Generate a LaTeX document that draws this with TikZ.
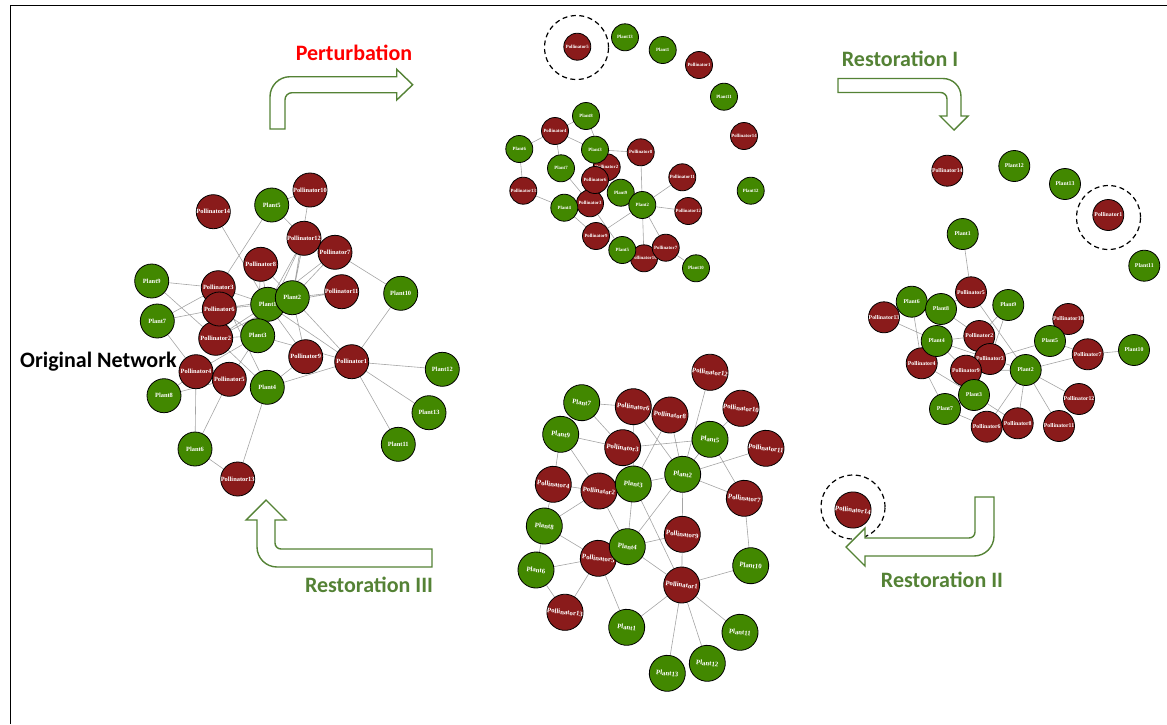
\documentclass[tikz,border=0pt]{standalone}
\usepackage{fontspec}
\setmainfont{Liberation Serif}
\newfontfamily\calib{Carlito}
\usepackage{xcolor}
\usetikzlibrary{backgrounds}
\definecolor{pollred}{RGB}{138,27,27}
\definecolor{plantgreen}{RGB}{66,136,0}
\definecolor{arrowgreen}{RGB}{84,130,53}
\definecolor{edgegray}{RGB}{165,165,165}
\tikzset{%
    % Specifications for style of nodes:
    base/.style = {
        circle, draw=black, line width=0.8pt,
        inner sep=0pt, text=white, align=center
    },
    poll/.style = {base, fill=pollred},
    plant/.style = {base, fill=plantgreen},
    orig/.style = {minimum size=34pt, font=\fontsize{6.4}{7}\selectfont\bfseries},
    pert/.style = {minimum size=27pt, font=\fontsize{4.8}{5}\selectfont\bfseries},
    restI/.style = {minimum size=31pt, font=\fontsize{5.8}{6}\selectfont\bfseries},
    restIII/.style = {minimum size=36pt, rotate=-7, font=\fontsize{6.8}{7}\selectfont\bfseries},
    ring/.style = {circle, draw=black, line width=1.2pt, dash pattern=on 5pt off 3.5pt, minimum size=64pt},
    edge/.style = {draw=edgegray, line width=0.6pt},
    blockarrow/.style = {draw=arrowgreen, line width=1.4pt, fill=white},
    title/.style = {inner sep=0pt, font=\calib\fontsize{22}{26}\selectfont\bfseries}
}

\begin{document}
\begin{tikzpicture}[x=1pt, y=-1pt]
\useasboundingbox (0,0) rectangle (1167,724);
\draw[line width=1pt] (10,724) -- (10,5) -- (1167,5);

% original network
\node[poll, orig] (oP10) at (310,190) {Pollinator10};
\node[plant, orig] (oL5) at (271.7,205) {Plant5};
\node[poll, orig] (oP14) at (213.3,211.7) {Pollinator14};
\node[poll, orig] (oP12) at (304,238.3) {Pollinator12};
\node[poll, orig] (oP7) at (335,252.3) {Pollinator7};
\node[poll, orig] (oP8) at (260.7,264.3) {Pollinator8};
\node[plant, orig] (oL9) at (151.7,281) {Plant9};
\node[poll, orig] (oP3) at (218.3,287.7) {Pollinator3};
\node[poll, orig] (oP11) at (341.7,291.7) {Pollinator11};
\node[plant, orig] (oL1) at (267.7,304.3) {Plant1};
\node[plant, orig] (oL2) at (292.3,297.7) {Plant2};
\node[plant, orig] (oL10) at (400.7,293.3) {Plant10};
\node[poll, orig] (oP2) at (215.7,338.3) {Pollinator2};
\node[poll, orig] (oP6) at (219.3,309) {Pollinator6};
\node[plant, orig] (oL7) at (157.3,321) {Plant7};
\node[plant, orig] (oL3) at (257.7,335.7) {Plant3};
\node[poll, orig] (oP9) at (305.7,356.7) {Pollinator9};
\node[poll, orig] (oP1) at (351.7,361.7) {Pollinator1};
\node[plant, orig] (oL12) at (442.3,369.3) {Plant12};
\node[poll, orig] (oP4) at (196,371.7) {Pollinator4};
\node[poll, orig] (oP5) at (229.3,379.3) {Pollinator5};
\node[plant, orig] (oL4) at (267.3,387.3) {Plant4};
\node[plant, orig] (oL8) at (164,395.7) {Plant8};
\node[plant, orig] (oL13) at (429,412.7) {Plant13};
\node[plant, orig] (oL11) at (398.3,444.3) {Plant11};
\node[plant, orig] (oL6) at (195,449) {Plant6};
\node[poll, orig] (oP13) at (237.7,479) {Pollinator13};

% after perturbation
\node[poll, pert] (pP5) at (577.3,46.7) {Pollinator5};
\node[ring] (pRing) at (576.5,47.5) {};
\node[plant, pert] (pL13) at (625,37.3) {Plant13};
\node[plant, pert] (pL1) at (662.7,50) {Plant1};
\node[poll, pert] (pP1) at (699,65) {Pollinator1};
\node[plant, pert] (pL11) at (724,96.7) {Plant11};
\node[poll, pert] (pP14) at (744,136) {Pollinator14};
\node[plant, pert] (pL12) at (750.7,190.7) {Plant12};
\node[plant, pert] (pL8) at (586,116) {Plant8};
\node[poll, pert] (pP4) at (555,131) {Pollinator4};
\node[plant, pert] (pL6) at (519.3,149) {Plant6};
\node[poll, pert] (pP2) at (606.7,167.3) {Pollinator2};
\node[plant, pert] (pL3) at (595,149.7) {Plant3};
\node[poll, pert] (pP8) at (640.7,152.3) {Pollinator8};
\node[plant, pert] (pL7) at (561,168.3) {Plant7};
\node[poll, pert] (pP11) at (682.3,177.3) {Pollinator11};
\node[poll, pert] (pP13) at (523.3,190.7) {Pollinator13};
\node[poll, pert] (pP3) at (590,203.3) {Pollinator3};
\node[poll, pert] (pP6) at (595,180) {Pollinator6};
\node[plant, pert] (pL9) at (620.7,192.7) {Plant9};
\node[plant, pert] (pL2) at (642.3,205) {Plant2};
\node[plant, pert] (pL4) at (564.3,207.7) {Plant4};
\node[poll, pert] (pP12) at (688.3,211) {Pollinator12};
\node[poll, pert] (pP9) at (596,236) {Pollinator9};
\node[poll, pert] (pP10) at (644,258.3) {Pollinator10};
\node[poll, pert] (pP7) at (665.7,247.7) {Pollinator7};
\node[plant, pert] (pL5) at (622.3,250) {Plant5};
\node[plant, pert] (pL10) at (696,268.3) {Plant10};

% restoration I
\node[poll, restI] (aP14) at (947.3,170.7) {Pollinator14};
\node[plant, restI] (aL12) at (1014.3,166) {Plant12};
\node[plant, restI] (aL13) at (1065,184) {Plant13};
\node[poll, restI] (aP1) at (1108.3,215) {Pollinator1};
\node[ring] (aRing) at (1108.5,217.5) {};
\node[plant, restI] (aL11) at (1144.3,265.7) {Plant11};
\node[plant, restI] (aL1) at (962.7,234) {Plant1};
\node[poll, restI] (aP5) at (971,292.3) {Pollinator5};
\node[poll, restI] (aP13) at (884,317.3) {Pollinator13};
\node[plant, restI] (aL6) at (911.7,301.7) {Plant6};
\node[plant, restI] (aL9) at (1008.3,305) {Plant9};
\node[plant, restI] (aL8) at (941,309) {Plant8};
\node[poll, restI] (aP10) at (1068.3,319) {Pollinator10};
\node[poll, restI] (aP2) at (979.3,336) {Pollinator2};
\node[poll, restI] (aP4) at (921.7,363.3) {Pollinator4};
\node[plant, restI] (aL4) at (936.7,341) {Plant4};
\node[plant, restI] (aL5) at (1050,341) {Plant5};
\node[poll, restI] (aP3) at (990,359) {Pollinator3};
\node[poll, restI] (aP7) at (1087.7,354.3) {Pollinator7};
\node[plant, restI] (aL10) at (1134,350) {Plant10};
\node[poll, restI] (aP9) at (966,370.7) {Pollinator9};
\node[plant, restI] (aL2) at (1025.7,370) {Plant2};
\node[plant, restI] (aL3) at (974,395) {Plant3};
\node[poll, restI] (aP12) at (1079,399) {Pollinator12};
\node[plant, restI] (aL7) at (945,409) {Plant7};
\node[poll, restI] (aP6) at (986.7,426.7) {Pollinator6};
\node[poll, restI] (aP8) at (1017.7,423.3) {Pollinator8};
\node[poll, restI] (aP11) at (1059,426) {Pollinator11};

% restoration II / III
\node[poll, restIII] (bP14) at (853,510) {Pollinator14};
\node[ring] (bRing) at (853,507) {};
\node[poll, restIII] (bP12) at (710,372.3) {Pollinator12};
\node[plant, restIII] (bL7) at (581.7,402.7) {Plant7};
\node[poll, restIII] (bP6) at (633.3,406.7) {Pollinator6};
\node[poll, restIII] (bP8) at (670,415) {Pollinator8};
\node[poll, restIII] (bP10) at (741,408.3) {Pollinator10};
\node[plant, restIII] (bL9) at (560.7,434.3) {Plant9};
\node[plant, restIII] (bL5) at (710,439.3) {Plant5};
\node[poll, restIII] (bP11) at (766,448.3) {Pollinator11};
\node[poll, restIII] (bP3) at (622.7,447.7) {Pollinator3};
\node[plant, restIII] (bL2) at (682.7,474.3) {Plant2};
\node[poll, restIII] (bP4) at (553.3,484.3) {Pollinator4};
\node[poll, restIII] (bP2) at (599,491) {Pollinator2};
\node[plant, restIII] (bL3) at (633.3,484) {Plant3};
\node[poll, restIII] (bP7) at (744.3,498.3) {Pollinator7};
\node[plant, restIII] (bL8) at (544.3,526) {Plant8};
\node[poll, restIII] (bP9) at (682.3,534.3) {Pollinator9};
\node[poll, restIII] (bP5) at (598.3,558.3) {Pollinator5};
\node[plant, restIII] (bL4) at (627.3,546.7) {Plant4};
\node[plant, restIII] (bL6) at (536,570) {Plant6};
\node[plant, restIII] (bL10) at (750.7,565.7) {Plant10};
\node[poll, restIII] (bP1) at (681.7,585) {Pollinator1};
\node[poll, restIII] (bP13) at (565,612.3) {Pollinator13};
\node[plant, restIII] (bL1) at (626.7,627.3) {Plant1};
\node[plant, restIII] (bL11) at (740,632.3) {Plant11};
\node[plant, restIII] (bL12) at (707.3,663.3) {Plant12};
\node[plant, restIII] (bL13) at (667.3,673.3) {Plant13};

\begin{scope}[on background layer]
\draw[edge] (oP10) -- (oL5) (oP10) -- (oL2) (oL5) -- (oP12) (oL5) -- (oP3)
    (oP14) -- (oL1) (oP12) -- (oL2) (oP12) -- (oL1) (oP12) -- (oL3)
    (oP7) -- (oL2) (oP7) -- (oL1) (oP7) -- (oL10) (oP8) -- (oL1) (oP8) -- (oL2)
    (oP8) -- (oL3) (oL9) -- (oP3) (oL9) -- (oP2) (oL7) -- (oP3) (oL7) -- (oP6)
    (oL7) -- (oP4) (oP11) -- (oL2) (oP11) -- (oL1) (oL1) -- (oP9) (oL1) -- (oP1)
    (oL1) -- (oP3) (oL1) -- (oP6) (oL1) -- (oP2) (oL2) -- (oP9) (oL2) -- (oP1)
    (oL2) -- (oP6) (oL2) -- (oP2) (oL3) -- (oP1) (oL3) -- (oP4) (oL3) -- (oP5)
    (oL3) -- (oP2) (oL3) -- (oP6) (oL4) -- (oP9) (oL4) -- (oP1) (oL4) -- (oP13)
    (oL4) -- (oP3) (oL4) -- (oP2) (oP1) -- (oL10) (oP1) -- (oL12) (oP1) -- (oL13)
    (oP1) -- (oL11) (oP4) -- (oL8) (oP4) -- (oL6) (oP5) -- (oL8) (oP5) -- (oL6)
    (oL6) -- (oP13);
\draw[edge] (pL8) -- (pP4) (pL8) -- (pP2) (pP4) -- (pL6) (pP4) -- (pL3)
    (pP4) -- (pL7) (pL6) -- (pP13) (pL3) -- (pP8) (pL3) -- (pP6) (pP13) -- (pL4)
    (pL7) -- (pP3) (pL4) -- (pP3) (pL4) -- (pP9) (pP8) -- (pL2) (pL2) -- (pP11)
    (pL2) -- (pP12) (pL2) -- (pP7) (pL2) -- (pP10) (pL2) -- (pP9) (pL9) -- (pP6)
    (pP3) -- (pL5) (pP7) -- (pL10) (pL9) -- (pP2);
\draw[edge] (aL1) -- (aP5) (aP5) -- (aL2) (aP5) -- (aL8) (aP13) -- (aL4)
    (aP13) -- (aL6) (aL6) -- (aP4) (aL8) -- (aP2) (aL9) -- (aP3) (aL9) -- (aP2)
    (aL4) -- (aP2) (aL4) -- (aP3) (aL4) -- (aP9) (aP4) -- (aL3) (aP4) -- (aL7)
    (aP9) -- (aL2) (aP3) -- (aL2) (aL5) -- (aP3) (aL5) -- (aP10) (aL5) -- (aP7)
    (aP7) -- (aL10) (aP7) -- (aL2) (aL2) -- (aP12) (aL2) -- (aP11) (aL2) -- (aP8)
    (aL2) -- (aP6) (aL3) -- (aP8) (aL7) -- (aP6) (aL3) -- (aP9);
\draw[edge] (bL7) -- (bP6) (bL7) -- (bP3) (bL9) -- (bP3) (bL9) -- (bP4)
    (bL9) -- (bP2) (bP6) -- (bL2) (bP6) -- (bL3) (bP8) -- (bL2) (bP8) -- (bL3)
    (bP12) -- (bL2) (bP10) -- (bL5) (bP3) -- (bL5) (bL5) -- (bP7) (bL5) -- (bL2)
    (bP11) -- (bL2) (bL2) -- (bP7) (bL2) -- (bP9) (bL3) -- (bL2) (bL2) -- (bL4)
    (bP4) -- (bP2) (bP4) -- (bL8) (bP2) -- (bL8) (bP2) -- (bL4) (bL3) -- (bL4)
    (bL3) -- (bP1) (bP7) -- (bL10) (bL8) -- (bP5) (bL8) -- (bL6) (bL4) -- (bP9)
    (bL4) -- (bP1) (bP9) -- (bP1) (bP5) -- (bL6) (bP5) -- (bP13) (bP5) -- (bL1)
    (bL6) -- (bP13) (bP1) -- (bL10) (bP1) -- (bL11) (bP1) -- (bL12)
    (bP1) -- (bL13) (bP1) -- (bL1);
\end{scope}

% block arrows
\draw[blockarrow] (270,129) -- (270,96.7) arc[start angle=180, end angle=270, radius=20]
    -- (396.7,76.7) -- (396.7,69.3) -- (412.7,84.7) -- (396.7,100) -- (396.7,92.7)
    -- (292,92.7) arc[start angle=270, end angle=180, radius=7] -- (285,129) -- cycle;
\draw[blockarrow] (838,78.5) -- (943,78.5) arc[start angle=270, end angle=360, radius=18]
    -- (961,116) -- (968,116) -- (954,130) -- (940,116) -- (947,116)
    -- (947,99) arc[start angle=0, end angle=-90, radius=6.5] -- (838,92.5) -- cycle;
\draw[blockarrow] (975,497) -- (994,497) -- (994,536) arc[start angle=0, end angle=90, radius=20]
    -- (865,556) -- (865,566) -- (846,547) -- (865,528) -- (865,538)
    -- (969,538) arc[start angle=90, end angle=0, radius=6] -- cycle;
\draw[blockarrow] (432,549) -- (281,549) arc[start angle=90, end angle=180, radius=6]
    -- (275,520) -- (286,520) -- (266,500) -- (246,520) -- (257,520)
    -- (257,547) arc[start angle=180, end angle=90, radius=20] -- (432,567) -- cycle;

% titles
\node[title, text=red] (tPert) at (354,53) {Perturbation};
\node[title, text=arrowgreen] (tRestI) at (900,59) {Restoration I};
\node[title, text=arrowgreen] (tRestII) at (942,580) {Restoration II};
\node[title, text=arrowgreen] (tRestIII) at (369,585) {Restoration III};
\node[title, anchor=west] (tOrig) at (20,362) {Original Network};
\end{tikzpicture}
\end{document}
